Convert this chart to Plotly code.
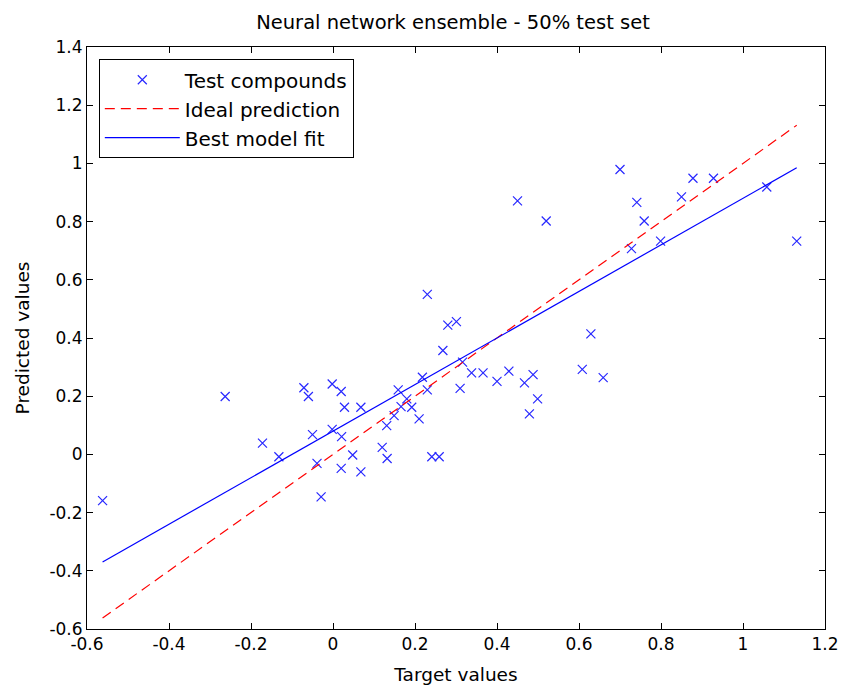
import plotly.graph_objects as go
import numpy as np

# Test compounds: target (x) and predicted (y) values
target = [-0.562, -0.263, -0.172, -0.132, -0.071, -0.060, -0.050, -0.039, -0.029,
          -0.002, 0.020, -0.002, 0.021, 0.028, 0.048, 0.020, 0.068, 0.068,
          0.450, 0.520, 0.230, 0.280, 0.301, 0.268, 0.316, 0.338, 0.366, 0.400,
          0.429, 0.467, 0.488, 0.499, 0.479, 0.629, 0.608, 0.659, 0.310, 0.218,
          0.230, 0.159, 0.180, 0.166, 0.192, 0.149, 0.210, 0.131, 0.120, 0.132,
          0.241, 0.259, 0.977, 0.700, 0.878, 0.928, 0.850, 0.741, 0.759, 1.058,
          0.799, 0.728, 1.131]
predicted = [-0.159, 0.199, 0.039, -0.008, 0.229, 0.199, 0.068, -0.031, -0.146,
             0.242, 0.216, 0.086, 0.061, 0.162, -0.002, -0.048, -0.060, 0.162,
             0.871, 0.802, 0.550, 0.444, 0.456, 0.357, 0.317, 0.280, 0.280, 0.251,
             0.286, 0.246, 0.274, 0.191, 0.139, 0.414, 0.292, 0.264, 0.227, 0.265,
             0.222, 0.222, 0.191, 0.164, 0.162, 0.133, 0.122, 0.099, 0.024, -0.014,
             -0.008, -0.008, 1.401, 0.979, 0.949, 0.949, 0.885, 0.866, 0.802, 0.919,
             0.733, 0.707, 0.733]

# Best model fit coefficients
fit_slope = 0.80
fit_intercept = 0.08

x_ticks = [-0.6, -0.4, -0.2, 0, 0.2, 0.4, 0.6, 0.8, 1.0, 1.2]
x_tick_text = ["-0.6", "-0.4", "-0.2", "0", "0.2", "0.4", "0.6", "0.8", "1", "1.2"]
y_ticks = [-0.6, -0.4, -0.2, 0, 0.2, 0.4, 0.6, 0.8, 1.0, 1.2, 1.4]
y_tick_text = ["-0.6", "-0.4", "-0.2", "0", "0.2", "0.4", "0.6", "0.8", "1", "1.2", "1.4"]

xline = np.array([min(target), max(target)])

FONT = "DejaVu Sans, Liberation Sans, sans-serif"

fig = go.Figure()
fig.add_trace(go.Scatter(
    x=target, y=predicted, mode="markers", name="Test compounds",
    marker=dict(symbol="x-thin", size=9, line=dict(width=1.2, color="rgb(40,40,255)")),
    cliponaxis=False,
))
fig.add_trace(go.Scatter(
    x=xline, y=xline, mode="lines", name="Ideal prediction",
    line=dict(color="red", width=1.2, dash="10px,6px"),
))
fig.add_trace(go.Scatter(
    x=xline, y=fit_slope * xline + fit_intercept, mode="lines", name="Best model fit",
    line=dict(color="blue", width=1.2),
))

axis_common = dict(
    showline=True, linecolor="black", linewidth=1, mirror="ticks",
    ticks="inside", ticklen=6, tickcolor="black", showgrid=False, zeroline=False,
    tickfont=dict(family=FONT, size=17, color="black"), automargin=False,
)

fig.update_layout(
    width=842, height=687,
    margin=dict(l=87, r=17, t=47, b=58),
    paper_bgcolor="white", plot_bgcolor="white",
    font=dict(family=FONT, size=17, color="black"),
    title=dict(text="Neural network ensemble - 50% test set", x=0.538, xanchor="center",
               y=0.968, yanchor="middle", font=dict(size=19.5)),
    xaxis=dict(range=[-0.6, 1.2], tickvals=x_ticks, ticktext=x_tick_text,
               title=dict(text="Target values", standoff=14, font=dict(size=18.5)), **axis_common),
    yaxis=dict(range=[-0.6, 1.4], tickvals=y_ticks, ticktext=y_tick_text,
               title=dict(text="Predicted values", standoff=14, font=dict(size=18.5)), **axis_common),
    legend=dict(x=0.016, y=0.979, xanchor="left", yanchor="top",
                bgcolor="white", bordercolor="black", borderwidth=1,
                font=dict(size=20), itemwidth=75, tracegroupgap=0),
    showlegend=True,
)

fig.write_html("out.html")
